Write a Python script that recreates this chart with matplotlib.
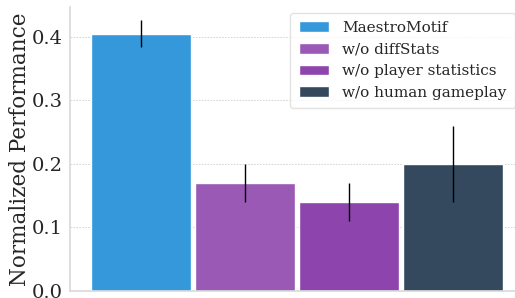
import matplotlib
matplotlib.use("Agg")
import matplotlib.pyplot as plt
import numpy as np

labels = ["MaestroMotif", "w/o diffStats", "w/o player statistics", "w/o human gameplay"]
values = [0.405, 0.17, 0.14, 0.20]
errors = [0.021, 0.03, 0.03, 0.06]
colors = ["#3498db", "#9b59b6", "#8e44ad", "#34495e"]
yticks = [0.0, 0.1, 0.2, 0.3, 0.4]

plt.rcParams['font.family'] = ['DejaVu Serif']
fig = plt.figure(figsize=(5.15, 2.98), dpi=100)
ax = fig.add_axes([70/515, 7/298, 445/515, 284/298])

x = np.arange(len(values))
bars = ax.bar(x, values, width=0.96, color=colors, edgecolor="white", linewidth=1.0,
              label=labels, zorder=2)
ax.errorbar(x, values, yerr=errors, fmt="none", ecolor="black", elinewidth=1.0, zorder=3)

ax.set_xlim(-0.68, 3.6)
ax.set_ylim(0, 0.447)
ax.set_yticks(yticks)
ax.set_yticklabels([f"{t:.1f}" for t in yticks], fontsize=14, color="#262626")
ax.set_xticks([])
ax.set_ylabel("Normalized Performance", fontsize=15.5, color="#262626", labelpad=1)
ax.yaxis.grid(True, linestyle=(0, (2, 1.5)), color="#d0d0d0", linewidth=0.6, zorder=0)
ax.tick_params(axis="y", length=0, pad=5)
for s in ["top", "right"]:
    ax.spines[s].set_visible(False)
for s in ["left", "bottom"]:
    ax.spines[s].set_color("#d9d9d9")
    ax.spines[s].set_linewidth(1.2)

leg = ax.legend(loc="upper right", fontsize=11, frameon=True, bbox_to_anchor=(1.0, 0.98),
                borderaxespad=0.0,
                handlelength=2.0, borderpad=0.55, labelspacing=0.5, handletextpad=0.85)
leg.get_frame().set_edgecolor("#dddddd")
for t in leg.get_texts():
    t.set_color("#262626")

fig.savefig("out.png", dpi=100)
